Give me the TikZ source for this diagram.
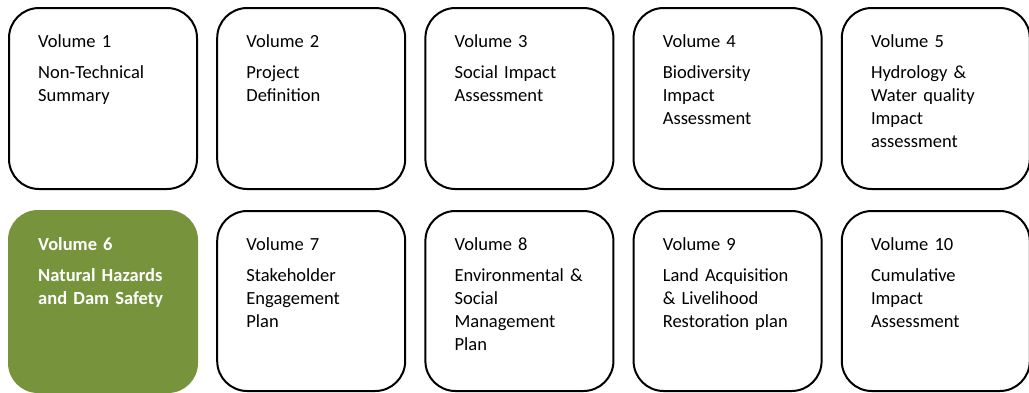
\documentclass[tikz,border=0pt]{standalone}
\usepackage{fontspec}
\setmainfont{Carlito}[WordSpace=0.85]
\definecolor{olive}{RGB}{119,147,60}
\tikzset{
  volbox/.style={draw=black, line width=2pt, rounded corners=30pt},
  greenbox/.style={fill=olive, rounded corners=30pt},
  voltext/.style={anchor=base west, inner sep=0pt, align=left, text width=165pt,
    font=\fontsize{18.5}{23}\selectfont},
}
\begin{document}
\begin{tikzpicture}[x=1pt,y=-1pt]
\useasboundingbox (0,0) rectangle (1029,392);
\clip (0,0) rectangle (1029,392);
% row 1
\foreach \i in {0,...,4}{
  \draw[volbox] ({9+208.2*\i},8) rectangle ({197+208.2*\i},189);
}
% row 2
\fill[greenbox] (8,210) rectangle (198,393);
\foreach \i in {1,...,4}{
  \draw[volbox] ({9+208.2*\i},211) rectangle ({197+208.2*\i},391);
}
\node[voltext] (t1) at (38,47) {Volume 1\\[8pt]Non-Technical\\Summary};
\node[voltext] (t2) at (246.2,47) {Volume 2\\[8pt]Project\\Definition};
\node[voltext] (t3) at (454.4,47) {Volume 3\\[8pt]Social Impact\\Assessment};
\node[voltext] (t4) at (662.6,47) {Volume 4\\[8pt]Biodiversity\\Impact\\Assessment};
\node[voltext] (t5) at (870.8,47) {Volume 5\\[8pt]Hydrology \&\\Water quality\\Impact\\assessment};
\node[voltext, text=white, font=\fontsize{18.5}{23}\selectfont\bfseries] (t6) at (38,250) {Volume 6\\[8pt]Natural Hazards\\and Dam Safety};
\node[voltext] (t7) at (246.2,250) {Volume 7\\[8pt]Stakeholder\\Engagement\\Plan};
\node[voltext] (t8) at (454.4,250) {Volume 8\\[8pt]Environmental \&\\Social\\Management\\Plan};
\node[voltext] (t9) at (662.6,250) {Volume 9\\[8pt]Land Acquisition\\\& Livelihood\\Restoration plan};
\node[voltext] (t10) at (870.8,250) {Volume 10\\[8pt]Cumulative\\Impact\\Assessment};
\end{tikzpicture}
\end{document}
